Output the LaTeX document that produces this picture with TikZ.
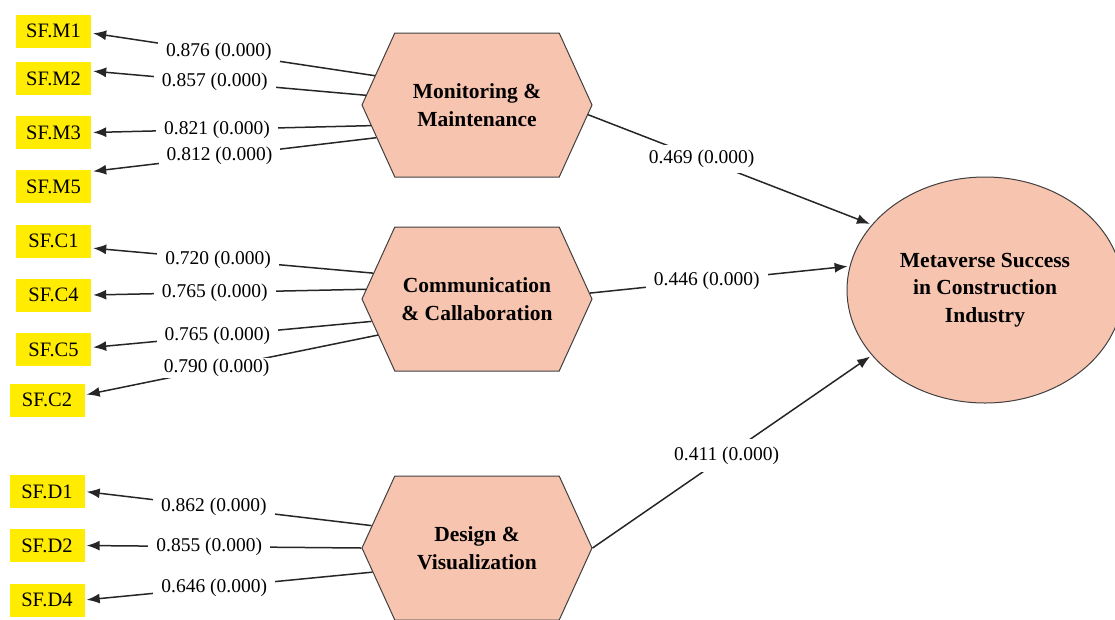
\documentclass[tikz,border=0pt]{standalone}
\usepackage{fontspec}
\setmainfont{Liberation Serif}
\usetikzlibrary{shapes.symbols,shapes.geometric,arrows.meta}

\definecolor{peach}{RGB}{247,196,176}
\definecolor{indyellow}{RGB}{255,236,0}

\tikzset{
  indic/.style={fill=indyellow, minimum width=75pt, minimum height=33pt, inner sep=0pt,
    font=\fontsize{20.5}{21}\selectfont},
  construct/.style={signal, signal to=west and east, signal pointer angle=131,
    fill=peach, draw=black!75, line width=1pt, minimum width=230pt, minimum height=144pt,
    inner sep=0pt, align=center, font=\fontsize{21.5}{28}\selectfont\bfseries},
  outcome/.style={ellipse, fill=peach, draw=black!75, line width=1pt,
    minimum width=276pt, minimum height=226pt, inner sep=0pt, align=center,
    font=\fontsize{21.5}{27.5}\selectfont\bfseries},
  load/.style={-{Latex[length=13pt,width=10pt]}, draw=black!85, line width=1.5pt, shorten >=2pt},
  lbl/.style={fill=white, inner xsep=8pt, inner ysep=1pt, font=\fontsize{19.5}{21}\selectfont}
}

\begin{document}
\begin{tikzpicture}[x=1pt, y=-1pt]
    \useasboundingbox (0,0) rectangle (1115,619);

    % Konstrukte
    \node[construct] (mm) at (477,105) {Monitoring \&\\Maintenance};
    \node[construct] (cc) at (477,299) {Communication\\\& Callaboration};
    \node[construct] (dv) at (477,548) {Design \&\\Visualization};
    \node[outcome] (ms) at (985,290) {Metaverse Success\\in Construction\\Industry};

    % Indikatoren
    \foreach \name/\txt/\x/\y in {m1/SF.M1/53.5/31, m2/SF.M2/53.5/78.5, m3/SF.M3/53.5/132.5,
        m5/SF.M5/53.5/186.5, c1/SF.C1/53.5/241, c4/SF.C4/53.5/295, c5/SF.C5/53.5/349.5,
        c2/SF.C2/47/400, d1/SF.D1/47/491.5, d2/SF.D2/47/545.5, d4/SF.D4/47/600} {
        \node[indic] (\name) at (\x,\y) {\txt};
    }

    % Ladungen
    \foreach \hex/\ang/\ind/\dy/\val in {mm/164/m1/-2/0.876, mm/175.5/m2/7.5/0.857,
        mm/191.5/m3/0/0.821, mm/198.5/m5/15/0.812,
        cc/166/c1/-7/0.720, cc/175/c4/0/0.765, cc/192.5/c5/2/0.765, cc/200.5/c2/5/0.790,
        dv/168.5/d1/0/0.862, dv/180/d2/0/0.855, dv/193/d4/0/0.646} {
        \draw[load] (\hex.\ang) -- node[lbl, pos=0.55] {\val\ (0.000)} ([yshift=\dy pt]\ind.east);
    }

    % Pfadkoeffizienten
    \draw[load] (mm.-5) -- node[lbl, pos=0.4, inner ysep=5pt] {0.469 (0.000)} (ms.150);
    \draw[load] (cc.3.5) -- node[lbl, pos=0.45] {0.446 (0.000)} (ms.170.7);
    \draw[load] (dv.east) -- node[lbl, pos=0.48, inner ysep=8pt] {0.411 (0.000)} (ms.210);
\end{tikzpicture}
\end{document}
